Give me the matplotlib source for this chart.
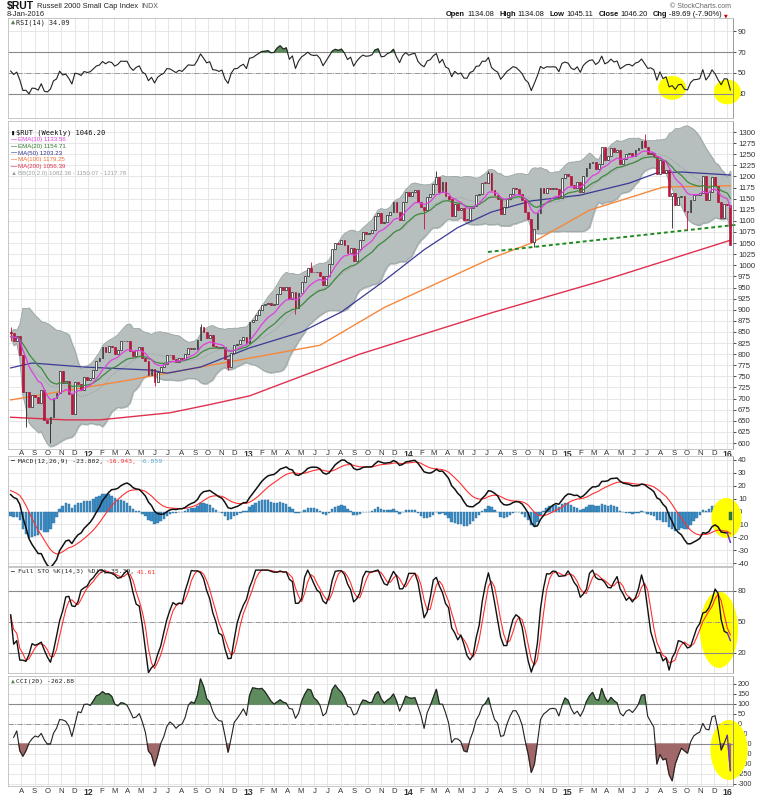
import numpy as np
import pandas as pd
import matplotlib
matplotlib.use('Agg')
import matplotlib.pyplot as plt
import matplotlib.dates as mdates
from matplotlib.patches import Ellipse

plt.rcParams['axes.unicode_minus'] = False

# weekly closes, 8-Jul-2011 .. 8-Jan-2016
close_2011 = [847, 829, 841, 797, 714, 715, 680, 707, 704, 689, 719, 652, 644,
              658, 701, 712, 761, 735, 740, 711, 666, 737, 733, 720, 748, 741]
close_2012 = [746, 765, 784, 791, 816, 805, 819, 816, 800, 810, 830, 829, 830,
              808, 795, 809, 816, 792, 784, 753, 766, 737, 760, 770, 777, 798,
              797, 790, 783, 792, 788, 800, 813, 812, 812, 831, 861, 850, 837,
              842, 818, 817, 813, 817, 788, 771, 803, 821, 822, 832, 839, 826]
close_2013 = [873, 876, 888, 899, 911, 912, 916, 911, 913, 936, 951, 944, 951,
              925, 941, 904, 938, 963, 976, 994, 986, 984, 986, 977, 955, 977,
              1004, 1037, 1051, 1048, 1057, 1046, 1027, 1040, 1010, 1036, 1057,
              1074, 1070, 1072, 1079, 1111, 1118, 1095, 1098, 1114, 1121, 1142,
              1120, 1102, 1143, 1165]
close_2014 = [1156, 1165, 1169, 1143, 1131, 1124, 1153, 1160, 1183, 1198, 1166,
              1187, 1157, 1150, 1111, 1138, 1124, 1129, 1103, 1102, 1128, 1134,
              1158, 1160, 1186, 1185, 1208, 1170, 1158, 1150, 1115, 1131, 1150,
              1161, 1174, 1171, 1160, 1146, 1119, 1104, 1053, 1082, 1118, 1173,
              1162, 1173, 1172, 1173, 1172, 1152, 1197, 1205]
close_2015 = [1201, 1181, 1174, 1188, 1165, 1200, 1218, 1230, 1233, 1216, 1228,
              1266, 1236, 1245, 1265, 1254, 1260, 1229, 1239, 1250, 1252, 1246,
              1260, 1265, 1280, 1266, 1250, 1252, 1246, 1206, 1238, 1207, 1214,
              1157, 1162, 1136, 1154, 1156, 1123, 1119, 1146, 1158, 1159, 1162,
              1200, 1148, 1166, 1199, 1178, 1142, 1107, 1138]
close_2016 = [1136, 1046.20]
first_open = 850

# long shadows that stick out of the bodies
wick_hi_dates = ['2011-07-08', '2012-09-14', '2013-05-24', '2014-03-07', '2014-07-04', '2015-06-26']
wick_hi_vals = [860, 868, 1008, 1212, 1213, 1296]
wick_lo_dates = ['2011-07-08', '2011-08-12', '2011-10-07', '2012-06-01', '2012-11-16', '2013-04-19',
                 '2014-02-07', '2014-10-17', '2015-08-28', '2015-10-02', '2016-01-08']
wick_lo_vals = [830, 636, 601, 729, 764, 890, 1082, 1041, 1083, 1080, 1045.11]

# long moving averages (their history starts before the chart window)
ma50_dates = ['2011-07-08', '2011-08-26', '2011-12-23', '2012-05-25', '2012-06-29', '2012-09-14',
              '2013-01-04', '2013-05-03', '2013-08-02', '2013-11-01', '2014-02-07', '2014-04-25',
              '2014-07-11', '2014-10-10', '2015-01-30', '2015-05-22', '2015-07-24', '2015-09-18',
              '2016-01-08']
ma50_vals = [769, 780, 771, 764, 757, 771, 814, 850, 895, 960, 1035, 1085, 1120, 1145,
             1158, 1185, 1208, 1210, 1203.23]
ma100_dates = ['2011-07-08', '2012-04-06', '2013-01-04', '2013-06-14', '2013-11-08',
               '2014-07-11', '2014-10-10', '2015-02-20', '2015-08-07', '2016-01-08']
ma100_vals = [697, 742, 791, 820, 905, 1016, 1050, 1124, 1176, 1179.25]
ma200_dates = ['2011-07-08', '2011-11-11', '2012-01-27', '2012-07-06', '2012-09-28',
               '2013-01-04', '2013-09-13', '2014-07-11', '2015-03-27', '2016-01-08']
ma200_vals = [658, 652, 652, 668, 685, 706, 800, 893, 967, 1056.39]

# indicator levels at the left edge of the chart (the week before the first bar)
ema10_start, ema20_start = 838, 838
ema12_start, ema26_start, signal_start = 845, 831, 17
rsi_gain_start, rsi_loss_start = 11, 10

trend_dates = ['2014-07-03', '2016-01-20']
trend_vals = [1030, 1091]

close = close_2011 + close_2012 + close_2013 + close_2014 + close_2015 + close_2016
dates = pd.date_range('2011-07-08', periods=len(close), freq='W-FRI')
df = pd.DataFrame({'close': close}, index=dates, dtype=float)
df['open'] = df['close'].shift(1).fillna(first_open)
df['high'] = df[['open', 'close']].max(axis=1)
df['low'] = df[['open', 'close']].min(axis=1)
for d, v in zip(wick_hi_dates, wick_hi_vals):
    df.loc[pd.Timestamp(d), 'high'] = v
for d, v in zip(wick_lo_dates, wick_lo_vals):
    df.loc[pd.Timestamp(d), 'low'] = v


def ewm_from(s, start, **kw):
    # exponential average that continues from a known earlier level
    s2 = pd.concat([pd.Series([start], index=[s.index[0] - pd.Timedelta(days=7)]), s])
    return s2.ewm(adjust=False, **kw).mean().iloc[1:]


c = df['close']
ema10 = ewm_from(c, ema10_start, span=10)
ema20 = ewm_from(c, ema20_start, span=20)
bb_mid = c.rolling(20, min_periods=1).mean()
bb_sd = c.rolling(20, min_periods=1).std(ddof=0).fillna(0)
bb_up = bb_mid + 2 * bb_sd
bb_lo = bb_mid - 2 * bb_sd

delta = c - df['open']
gain = ewm_from(delta.clip(lower=0), rsi_gain_start, alpha=1 / 14)
loss = ewm_from(-delta.clip(upper=0), rsi_loss_start, alpha=1 / 14)
rsi = 100 - 100 / (1 + gain / loss)

macd = ewm_from(c, ema12_start, span=12) - ewm_from(c, ema26_start, span=26)
signal = ewm_from(macd, signal_start, span=9)
hist = macd - signal

ll = df['low'].rolling(14, min_periods=1).min()
hh = df['high'].rolling(14, min_periods=1).max()
fast_k = 100 * (c - ll) / (hh - ll).replace(0, np.nan)
sto_k = fast_k.rolling(3, min_periods=1).mean()
sto_d = sto_k.rolling(3, min_periods=1).mean()

tp = (df['high'] + df['low'] + c) / 3
tp_ma = tp.rolling(20, min_periods=1).mean()
tp_md = tp.rolling(20, min_periods=1).apply(lambda x: np.mean(np.abs(x - x.mean())), raw=True)
cci = (tp - tp_ma) / (0.015 * tp_md.replace(0, np.nan))

# ---------- figure ----------
W, H = 757, 800
fig = plt.figure(figsize=(W / 100, H / 100), dpi=100)
fig.patch.set_facecolor('white')
renderer = fig.canvas.get_renderer()


def panel(top, bottom):
    return fig.add_axes([8 / W, 1 - bottom / H, 725 / W, (bottom - top) / H])


def px(x, y):
    return x / W, 1 - y / H


def text_run(x, y, pieces, size=4.6, family='DejaVu Sans Mono', gap=3):
    # pieces drawn one after another on a line: (text, colour, weight)
    for txt, col, weight in pieces:
        t = fig.text(*px(x, y), txt, fontsize=size, family=family, color=col,
                     fontweight=weight, va='center')
        x += t.get_window_extent(renderer).width + gap
    return x


def text_run_right(x, y, pieces, size=5.2, family='Liberation Sans'):
    for txt, col, weight, g in reversed(pieces):
        t = fig.text(*px(x, y), txt, fontsize=size, family=family, color=col,
                     fontweight=weight, va='center', ha='right')
        x -= t.get_window_extent(renderer).width + g
    return x


month_starts = pd.date_range('2011-08-01', '2016-01-01', freq='MS')
month_labels = [d.strftime('%y') if d.month == 1 else 'JFMAMJJASOND'[d.month - 1] for d in month_starts]
x_left, x_right = pd.Timestamp('2011-07-02'), pd.Timestamp('2016-01-14')
tick_font = 5.6
grid_col = '#e3e3e3'


def style(ax, yticks, ylim, show_x=False, xpad=2.5):
    ax.set_xlim(x_left, x_right)
    ax.set_ylim(*ylim)
    ax.set_xticks(month_starts)
    ax.set_yticks(yticks)
    ax.yaxis.tick_right()
    ax.tick_params(axis='y', labelsize=tick_font, colors='#333333', length=2, pad=1.5, width=0.6)
    ax.tick_params(axis='x', length=0, pad=xpad, labelsize=tick_font, colors='#333333')
    for lab in ax.get_yticklabels() + ax.get_xticklabels():
        lab.set_family('Liberation Sans')
    if show_x:
        ax.set_xticklabels(month_labels, family='Liberation Sans')
        for lab, d in zip(ax.get_xticklabels(), month_starts):
            if d.month == 1:
                lab.set_fontweight('bold')
                lab.set_fontsize(6.2)
    else:
        ax.set_xticklabels([])
    ax.grid(True, color=grid_col, lw=0.6)
    ax.set_axisbelow(True)
    for s in ax.spines.values():
        s.set_color('#bdbdbd')
        s.set_linewidth(0.6)
    ax.spines['right'].set_color('#888888')


def ring(ax, day, val, w, h):
    e = Ellipse((mdates.date2num(pd.Timestamp(day)), val), w, h, facecolor='#ffff00',
                edgecolor='none', zorder=1.5, clip_on=False)
    ax.add_patch(e)


# ---------- RSI ----------
ax1 = panel(18, 118)
style(ax1, [90, 70, 50, 30], (6.4, 103))
ring(ax1, '2015-08-28', 35.5, 64, 23)
ring(ax1, '2016-01-01', 31.6, 62, 24)
for lvl in (70, 30):
    ax1.axhline(lvl, color='#8a8a8a', lw=0.8, zorder=1.6)
ax1.axhline(50, color='#8a8a8a', lw=0.6, ls='-.', zorder=1.6)
ax1.fill_between(dates, rsi, 70, where=rsi > 70, interpolate=True, color='#5f8c5f', zorder=1.7)
ax1.fill_between(dates, rsi, 30, where=rsi < 30, interpolate=True, color='#9b6464', zorder=1.7)
ax1.plot(dates, rsi, color='#222222', lw=0.8, zorder=3)
text_run(11, 23, [('\u25B2', '#4f7f4f', 'normal'), ('RSI(14) 34.09', '#222222', 'normal')],
         size=4.9, gap=1)

# ---------- price ----------
ax2 = panel(121, 449)
style(ax2, np.arange(600, 1301, 25), (586.5, 1324.8), show_x=True, xpad=0.6)
ax2.fill_between(dates, bb_lo, bb_up, color='#b6bebe', zorder=1.2)
ax2.plot(dates, bb_up, color='#98a2a2', lw=0.5, zorder=1.3)
ax2.plot(dates, bb_lo, color='#98a2a2', lw=0.5, zorder=1.3)
ax2.plot(dates, bb_mid, color='#8e9696', lw=0.6, ls=(0, (1, 1.5)), zorder=1.4)
ax2.plot(pd.to_datetime(ma200_dates), ma200_vals, color='#e0304e', lw=1.0, zorder=2)
ax2.plot(pd.to_datetime(ma100_dates), ma100_vals, color='#f5883c', lw=1.0, zorder=2)
ax2.plot(pd.to_datetime(ma50_dates), ma50_vals, color='#3a3a96', lw=0.9, zorder=2)
ax2.plot(pd.to_datetime(trend_dates), trend_vals, color='#1f8a1f', lw=1.4,
         ls=(0, (2, 1.5)), zorder=2, clip_on=False)

up = df['close'] >= df['open']
body_lo = df[['open', 'close']].min(axis=1)
body_h = (df['close'] - df['open']).abs().clip(lower=1.5)
ax2.vlines(dates, df['low'], df['high'], color=np.where(up, '#222222', '#c8103c'), lw=0.6, zorder=2.5)
ax2.bar(dates[up], body_h[up], bottom=body_lo[up], width=4.2, color='white',
        edgecolor='#222222', lw=0.5, zorder=2.6)
ax2.bar(dates[~up], body_h[~up], bottom=body_lo[~up], width=4.2, color='#c8103c',
        edgecolor='#9a0c30', lw=0.4, zorder=2.6)
ax2.plot(dates, ema20, color='#3f8a3f', lw=0.9, zorder=2.7)
ax2.plot(dates, ema10, color='#e040e0', lw=0.9, zorder=2.8)

legend_lines = [('EMA(10) 1133.56', '#e040e0'),
                ('EMA(20) 1154.71', '#2f7a2f'),
                ('MA(50) 1203.23', '#33338f'),
                ('MA(100) 1179.25', '#f0703c'),
                ('MA(200) 1056.39', '#e0304e')]
text_run(11, 133, [('\u25AE', '#111111', 'normal'), ('$RUT (Weekly) 1046.20', '#111111', 'normal')],
         size=5.0, gap=1)
for i, (txt, col) in enumerate(legend_lines):
    text_run(11, 139.8 + i * 6.7, [('\u2014', col, 'bold'), (txt, col, 'normal')],
             size=4.4, family='Liberation Sans', gap=0.5)
text_run(11, 173.3, [('\u25B2', '#9aa0a0', 'normal'),
                     ('BB(20,2.0) 1082.36 - 1150.07 - 1217.78', '#9aa0a0', 'normal')],
         size=4.4, family='Liberation Sans', gap=0.5)

# ---------- MACD ----------
ax3 = panel(456, 566)
style(ax3, np.arange(-40, 41, 10), (-42.2, 43))
ax3.bar(dates[:-1], hist[:-1], width=5.5, color='#3d8dc4', edgecolor='#2a6d9e', lw=0.3, zorder=1.4)
ring(ax3, '2015-12-30', -5, 69, 31)
ax3.bar(dates[-1:], hist[-1:], width=5.5, color='#2f7f3a', edgecolor='#1f5f2a', lw=0.3, zorder=1.8)
ax3.plot(dates, signal, color='#ff3030', lw=0.8, zorder=2.5)
ax3.plot(dates[:-1], macd[:-1], color='#111111', lw=1.1, zorder=2.6)
ax3.plot(dates[-2:], macd[-2:], color='#6a35c8', lw=1.1, zorder=2.7)
text_run(11, 461, [('\u2014', '#222222', 'bold'), ('MACD(12,26,9) -23.802,', '#222222', 'normal'),
                   ('-16.943,', '#ff3030', 'normal'), ('-6.859', '#5aa8d8', 'normal')])

# ---------- Full STO ----------
ax4 = panel(567, 673)
style(ax4, [80, 50, 20], (0.5, 103))
ring(ax4, '2015-12-13', 42.3, 87, 74)
for lvl in (80, 20):
    ax4.axhline(lvl, color='#8a8a8a', lw=0.8, zorder=1.6)
ax4.axhline(50, color='#8a8a8a', lw=0.6, ls='-.', zorder=1.6)
ax4.plot(dates, sto_d, color='#ff3030', lw=0.8, zorder=2.5)
ax4.plot(dates[:-1], sto_k[:-1], color='#111111', lw=1.0, zorder=2.6)
ax4.plot(dates[-2:], sto_k[-2:], color='#6a35c8', lw=1.0, zorder=2.7)
text_run(11, 572, [('\u2014', '#222222', 'bold'), ('Full STO %K(14,3) %D(3) 35.39,', '#222222', 'normal'),
                   ('41.61', '#ff3030', 'normal')])

# ---------- CCI ----------
ax5 = panel(676, 786)
style(ax5, np.arange(-300, 201, 50), (-310, 240), show_x=True, xpad=1.5)
ax5.tick_params(axis='y', labelsize=5.2)
ring(ax5, '2016-01-05', -130, 85, 300)
for lvl in (100, -100):
    ax5.axhline(lvl, color='#8a8a8a', lw=0.8, zorder=1.6)
ax5.axhline(0, color='#8a8a8a', lw=0.6, ls='-.', zorder=1.6)
ax5.fill_between(dates, cci, 100, where=cci > 100, interpolate=True, color='#5f8c5f', zorder=1.7)
ax5.fill_between(dates, cci, -100, where=cci < -100, interpolate=True, color='#a06868', zorder=1.7)
ax5.plot(dates[:-1], cci[:-1], color='#222222', lw=0.8, zorder=2.6)
ax5.plot(dates[-2:], cci[-2:], color='#6a35c8', lw=1.0, zorder=2.7)
text_run(11, 681, [('\u25B2', '#4f7f4f', 'normal'), ('CCI(20) -262.88', '#222222', 'normal')], gap=1)

# ---------- header ----------
x = text_run(7, 6, [('$RUT', '#111111', 'bold')], size=7.5, family='Liberation Sans', gap=3)
x = text_run(x, 6, [('Russell 2000 Small Cap Index', '#222222', 'normal')], size=5.4,
             family='Liberation Sans', gap=3)
text_run(x, 6, [('INDX', '#555555', 'normal')], size=5.0, family='Liberation Sans')
text_run(7, 15, [('8-Jan-2016', '#222222', 'normal')], size=5.4, family='Liberation Sans')
fig.text(*px(731, 6), '\u00a9 StockCharts.com', fontsize=5, family='Liberation Sans',
         va='center', ha='right', color='#666666')
hdr = [('Open', '#111111', 'bold', 5), ('1134.08', '#111111', 'normal', 2),
       ('High', '#111111', 'bold', 5), ('1134.08', '#111111', 'normal', 2),
       ('Low', '#111111', 'bold', 5), ('1045.11', '#111111', 'normal', 2),
       ('Close', '#111111', 'bold', 5), ('1046.20', '#111111', 'normal', 2),
       ('Chg', '#111111', 'bold', 5), ('-89.69 (-7.90%)', '#111111', 'normal', 2)]
text_run_right(722, 15, hdr, size=5.4)
fig.text(*px(724, 15.5), '\u25BC', fontsize=3.5, va='center', ha='left', color='#d00000')

fig.savefig('out.png', dpi=100, facecolor='white')
